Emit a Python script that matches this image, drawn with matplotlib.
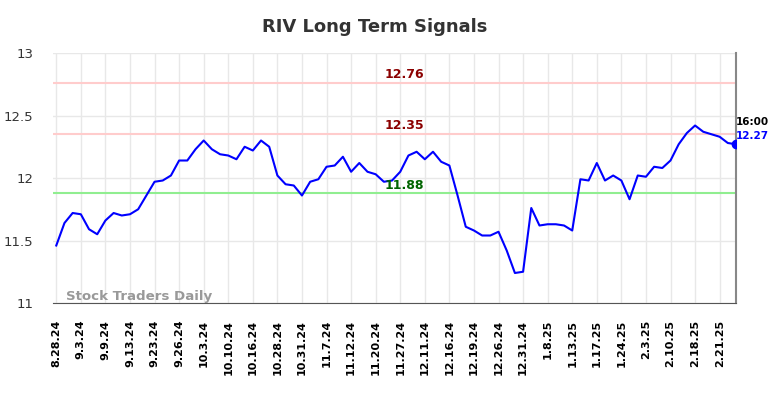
import matplotlib
matplotlib.use("Agg")
import matplotlib.pyplot as plt

# closing prices, one per trading session
prices = [
    11.46, 11.64, 11.72, 11.71, 11.59, 11.55, 11.66, 11.72, 11.70, 11.71,
    11.75, 11.86, 11.97, 11.98, 12.02, 12.14, 12.14, 12.23, 12.30, 12.23,
    12.19, 12.18, 12.15, 12.25, 12.22, 12.30, 12.25, 12.02, 11.95, 11.94,
    11.86, 11.97, 11.99, 12.09, 12.10, 12.17, 12.05, 12.12, 12.05, 12.03,
    11.97, 11.98, 12.05, 12.18, 12.21, 12.15, 12.21, 12.13, 12.10, 11.86,
    11.61, 11.58, 11.54, 11.54, 11.57, 11.42, 11.24, 11.25, 11.76, 11.62,
    11.63, 11.63, 11.62, 11.58, 11.99, 11.98, 12.12, 11.98, 12.02, 11.98,
    11.83, 12.02, 12.01, 12.09, 12.08, 12.14, 12.27, 12.36, 12.42, 12.37,
    12.35, 12.33, 12.28, 12.27,
]

# every third session is labelled
tick_labels = [
    "8.28.24", "9.3.24", "9.9.24", "9.13.24", "9.23.24", "9.26.24", "10.3.24",
    "10.10.24", "10.16.24", "10.28.24", "10.31.24", "11.7.24", "11.12.24",
    "11.20.24", "11.27.24", "12.11.24", "12.16.24", "12.19.24", "12.26.24",
    "12.31.24", "1.8.25", "1.13.25", "1.17.25", "1.24.25", "2.3.25",
    "2.10.25", "2.18.25", "2.21.25",
]

upper_levels = [12.76, 12.35]
lower_level = 11.88
last_time = "16:00"

fig = plt.figure(figsize=(7.84, 3.98), dpi=100)
ax = fig.add_axes([0.0676, 0.2387, 0.8712, 0.6281])

x = list(range(len(prices)))
ax.plot(x, prices, color="blue", lw=1.5, zorder=3)
ax.plot(x[-1], prices[-1], "o", color="blue", ms=6, zorder=4)

# level labels sit a little right of the middle
for lvl in upper_levels:
    ax.axhline(lvl, color="#ffcccc", lw=1.5, zorder=2)
    ax.text(0.515, lvl + 0.02, f"{lvl:.2f}", color="#8b0000", fontsize=9,
            fontweight="bold", ha="center", va="bottom",
            transform=ax.get_yaxis_transform())
ax.axhline(lower_level, color="#90ee90", lw=1.5, zorder=2)
ax.text(0.515, lower_level + 0.005, f"{lower_level:.2f}", color="#006400", fontsize=9,
        fontweight="bold", ha="center", va="bottom",
        transform=ax.get_yaxis_transform())

ax.set_xlim(-0.4, len(prices) - 1)
ax.set_ylim(11, 13)
ax.set_yticks([11, 11.5, 12, 12.5, 13])
ax.set_yticklabels(["11", "11.5", "12", "12.5", "13"])
ax.set_xticks(x[::3])
ax.set_xticklabels(tick_labels, rotation=90, fontsize=8, fontweight="bold")
ax.tick_params(axis="y", labelsize=9.5, colors="#333333", length=0, pad=14)
ax.tick_params(axis="x", length=0, pad=12)

ax.grid(True, color="#e8e8e8", lw=1)
for s in ["top", "left"]:
    ax.spines[s].set_visible(False)
ax.spines["bottom"].set_color("#555555")
ax.spines["right"].set_color("#888888")
ax.spines["right"].set_linewidth(1.5)

ax.text(len(prices) - 1, prices[-1] + 0.18, last_time, fontsize=7.5,
        fontweight="bold", color="black", ha="left", va="center")
ax.text(len(prices) - 1, prices[-1] + 0.07, f"{prices[-1]:.2f}", fontsize=7.5,
        fontweight="bold", color="blue", ha="left", va="center")

ax.text(1.2, 11.0, "Stock Traders Daily", fontsize=9.6, fontweight="bold",
        color="#999999", ha="left", va="bottom")

fig.suptitle("RIV Long Term Signals", x=0.478, y=0.955, fontsize=13,
             fontweight="bold", color="#333333")

fig.savefig("out.png", dpi=100)
